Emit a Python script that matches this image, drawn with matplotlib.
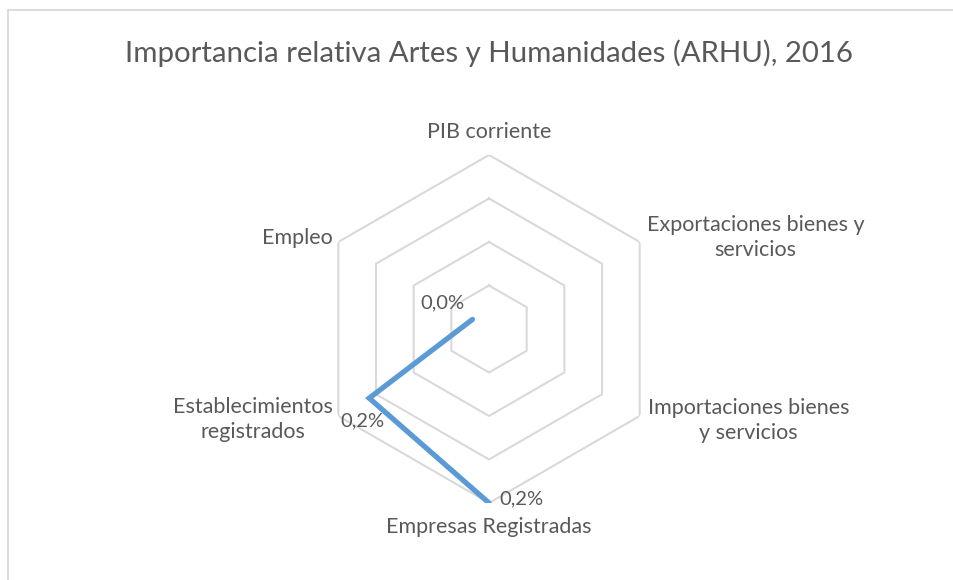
import numpy as np
import matplotlib
matplotlib.use("Agg")
import matplotlib.pyplot as plt
from matplotlib.patches import Rectangle

plt.rcParams['font.family'] = ['Lato', 'DejaVu Sans']

# datos (en %)
categorias = ["PIB corriente", "Exportaciones bienes y\nservicios", "Importaciones bienes\ny servicios",
              "Empresas Registradas", "Establecimientos\nregistrados", "Empleo"]
valores = [np.nan, np.nan, np.nan, 0.200, 0.159, 0.022]
anillos = [0.05, 0.10, 0.15, 0.20]

gris_txt = "#595959"
gris_lin = "#d9d9d9"
azul = "#5b9bd5"

fig = plt.figure(figsize=(9.54, 5.8), dpi=100)
fig.patches.append(Rectangle((8/954, -1), 2, 2 - 10/580, transform=fig.transFigure,
                             fill=False, edgecolor=gris_lin, lw=1.3))
fig.text(0.513, 1 - 53/580, "Importancia relativa Artes y Humanidades (ARHU), 2016",
         ha='center', va='center', fontsize=21.2, color=gris_txt)

ax = fig.add_axes([0.3302, 0.1328, 0.3648, 0.6], projection='polar')
ax.set_theta_offset(np.pi/2)
ax.set_theta_direction(-1)
ax.set_ylim(0, 0.2)
ax.grid(False)
ax.set_xticks([])
ax.set_yticks([])
ax.spines['polar'].set_visible(False)
ax.patch.set_visible(False)

ang = np.deg2rad(np.arange(6)*60)
ang_c = np.append(ang, ang[0])
for r in anillos:
    ax.plot(ang_c, [r]*7, color=gris_lin, lw=1.5, zorder=1)

ax.plot(ang, valores, color=azul, lw=3.8, solid_capstyle='round', solid_joinstyle='miter', zorder=3)

# etiquetas de categoria
pos = [(0.2264, 'center'), (0.2095, 'left'), (0.211, 'left'),
       (0.2276, 'center'), (0.2075, 'right'), (0.208, 'right')]
for a, c, (r, ha) in zip(ang, categorias, pos):
    ax.text(a, r, c, ha=ha, va='center', fontsize=15.5, color=gris_txt,
            multialignment='center', linespacing=1.3, clip_on=False)

# etiquetas de datos
offs = {3: (32, 4), 4: (-7, -23), 5: (-30, 17)}
for i, (dx, dy) in offs.items():
    ax.annotate(f"{valores[i]:.1f}%".replace('.', ','), (ang[i], valores[i]),
                xytext=(dx, dy), textcoords='offset pixels', ha='center', va='center',
                fontsize=14.5, color=gris_txt, annotation_clip=False)

fig.savefig("out.png", dpi=100)
